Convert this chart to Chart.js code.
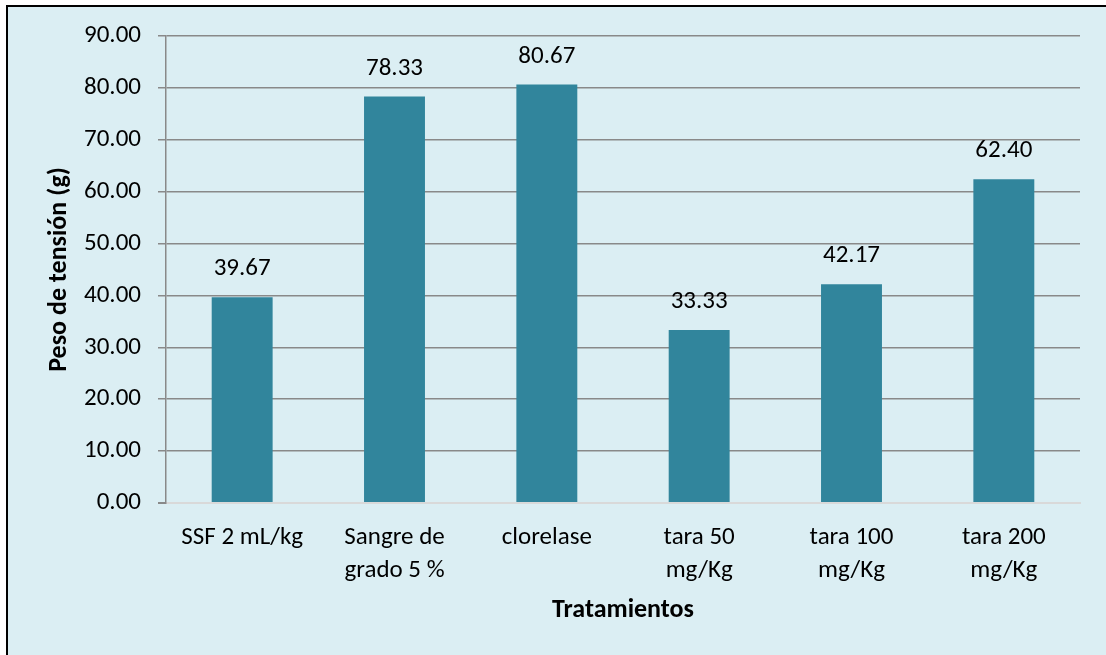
<!DOCTYPE html>
<html>
<head>
<meta charset="utf-8">
<script src="https://cdn.jsdelivr.net/npm/chart.js@4"></script>
<style>
  body { margin: 0; background: #ffffff; overflow: hidden; }
  #frame {
    position: absolute; left: 6px; top: 5px;
    width: 1300px; height: 900px;
    border: 2px solid #000000;
    background: #dbeef3;
  }
  #wrap { position: absolute; left: 0; top: 0; width: 1106px; height: 655px; }
</style>
</head>
<body>
<div id="frame"></div>
<div id="wrap"><canvas id="theChart"></canvas></div>
<script>
// categories and values
var tratamientos = [
    ['SSF 2 mL/kg'],
    ['Sangre de', 'grado 5 %'],
    ['clorelase'],
    ['tara 50', 'mg/Kg'],
    ['tara 100', 'mg/Kg'],
    ['tara 200', 'mg/Kg']
];
var pesoTension = [39.67, 78.33, 80.67, 33.33, 42.17, 62.40];

var fontFamily = 'Carlito, Lato, sans-serif';

// draws the value above each bar
var valueLabels = {
    id: 'valueLabels',
    afterDatasetsDraw: function (chart) {
        var ctx = chart.ctx;
        var meta = chart.getDatasetMeta(0);
        ctx.save();
        ctx.font = '25px ' + fontFamily;
        ctx.fillStyle = '#000000';
        ctx.textAlign = 'center';
        ctx.textBaseline = 'middle';
        meta.data.forEach((bar, i) => {
            ctx.fillText(pesoTension[i].toFixed(2), bar.x, bar.y - 28);
        });
        ctx.restore();
    }
};

var options = {
    type: 'bar',
    data: {
        labels: tratamientos,
        datasets: [
            {
                label: 'Peso de tensión (g)',
                data: pesoTension,
                backgroundColor: '#31859c',
                borderWidth: 0,
                barPercentage: 0.4,
                categoryPercentage: 1
            }
        ]
    },
    options: {
        responsive: false,
        animation: false,
        layout: {
            padding: {
                top: 36,
                right: 26,
                left: 0,
                bottom: 0
            }
        },
        plugins: {
            legend: { display: false },
            tooltip: { enabled: false }
        },
        scales: {
            x: {
                grid: { display: false },
                border: { color: '#d9d9d9', width: 2 },
                ticks: {
                    color: '#000000',
                    font: { family: fontFamily, size: 25, lineHeight: 1.32 },
                    padding: 10,
                    maxRotation: 0,
                    autoSkip: false
                },
                title: {
                    display: true,
                    text: 'Tratamientos',
                    color: '#000000',
                    font: { family: fontFamily, size: 26, weight: 'bold' },
                    padding: { top: 10, bottom: 29 }
                },
                afterFit: function (scale) { scale.height = 152; }
            },
            y: {
                min: 0,
                max: 90,
                grid: {
                    color: function (c) { return c.tick && c.tick.value === 0 ? '#d9d9d9' : '#898989'; },
                    lineWidth: function (c) { return c.tick && c.tick.value === 0 ? 2 : 1.5; },
                    tickColor: '#898989',
                    tickLength: 8
                },
                border: { color: '#898989', width: 1.5 },
                ticks: {
                    stepSize: 10,
                    color: '#000000',
                    padding: 17,
                    font: { family: fontFamily, size: 25 },
                    callback: function (v) { return Number(v).toFixed(2); }
                },
                title: {
                    display: true,
                    text: 'Peso de tensión (g)',
                    color: '#000000',
                    font: { family: fontFamily, size: 26, weight: 'bold' },
                    padding: { top: 44, bottom: 0 }
                },
                afterFit: function (scale) { scale.width = 166; }
            }
        }
    },
    plugins: [valueLabels]
};

var canvas = document.getElementById('theChart');
canvas.width = 1106;
canvas.height = 655;
var theChart = new Chart(canvas.getContext('2d'), options);
</script>
</body>
</html>
